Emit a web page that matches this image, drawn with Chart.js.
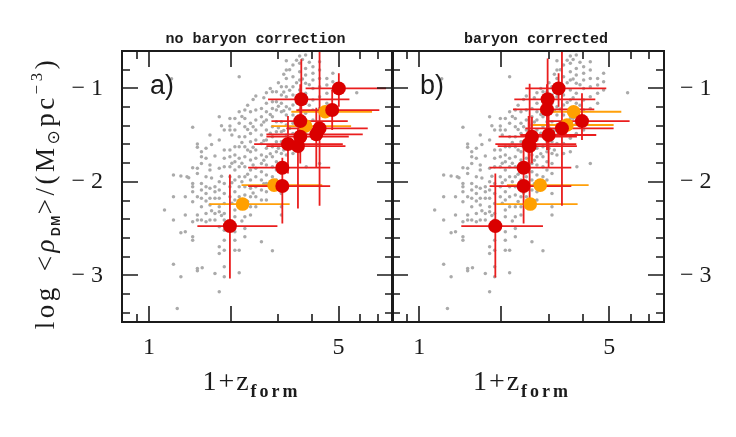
<!DOCTYPE html>
<html><head><meta charset="utf-8">
<script src="https://cdn.jsdelivr.net/npm/chart.js@4.4.0/dist/chart.umd.min.js"></script>
<style>
html,body{margin:0;padding:0;background:#fff;}
#wrap{position:relative;width:736px;height:437px;background:#fff;}
canvas{position:absolute;left:0;top:0;}
</style></head><body>
<div id="wrap"><canvas id="ca" width="736" height="437"></canvas><canvas id="cb" width="736" height="437"></canvas></div>
<script>
// ---------- data ----------
// simulated haloes (same in both panels): 1+z_form columns and log density values
const simZ = [1.14,1.21,1.23,1.27,1.31,1.36,1.38,1.40,1.448,1.507,1.56,1.57,1.622,1.677,1.75,1.815,1.894,1.987,2.073,2.15,2.256,2.367,2.476,2.597,2.709,2.851,2.949,3.077,3.209,3.395,3.594,3.78,3.80,4.023,4.256,4.528,4.764,5.837,
              2.02,2.20,2.31,2.42,2.65,2.80,3.00,3.14,3.30,3.50,3.68,3.90,1.70,1.85];
const simLogRho = [
 [-2.302],
 [-0.896],
 [-1.928,-2.160,-2.409,-2.881],
 [-3.355],
 [-1.938,-2.545,-3.016],
 [-2.160,-2.356,-2.534],
 [-1.946],
 [-1.956],
 [-1.417,-1.849,-2.017,-2.053,-2.106,-2.213,-2.427,-2.588,-2.624],
 [-1.596,-1.631,-1.856,-1.910,-2.160,-2.356,-2.409,-2.927,-2.952],
 [-1.678,-1.731,-1.803,-2.017,-2.088,-2.177,-2.267,-2.409],
 [-2.920],
 [-1.642,-1.749,-1.946,-2.053,-2.124,-2.206,-2.338,-2.427],
 [-1.499,-1.821,-1.874,-2.070,-2.177,-2.249,-2.409],
 [-1.724,-2.053,-2.106,-2.177,-2.338,-2.409,-2.980],
 [-1.303,-1.553,-1.856,-1.999,-2.088,-2.177,-2.267,-2.320,-2.481,-2.695,-2.766,-3.177],
 [-1.446,-1.660,-1.749,-1.838,-2.017,-2.124,-2.231,-2.338,-2.409,-2.517,-2.624,-2.731,-2.909,-3.016],
 [-1.321,-1.403,-1.446,-1.660,-1.731,-1.838,-1.946,-2.053,-2.160,-2.481],
 [-1.321,-1.446,-1.624,-1.713,-1.785,-1.874,-1.981,-2.106,-2.195,-2.302,-2.374,-2.534,-2.624,-2.731],
 [-0.875,-1.250,-1.374,-1.517,-1.624,-1.749,-1.838,-1.946,-2.053,-2.160,-2.267,-2.731,-2.973],
 [-1.232,-1.321,-1.410,-1.517,-1.624,-1.731,-1.838,-1.946,-2.053,-2.142,-2.267,-2.374,-2.499,-2.588],
 [-1.250,-1.374,-1.482,-1.571,-1.678,-1.767,-1.874,-1.981,-2.070,-2.160,-2.267,-2.356],
 [-1.082,-1.232,-1.339,-1.446,-1.553,-1.660,-1.749,-1.856,-1.946,-2.053,-2.160,-2.267],
 [-1.214,-1.303,-1.392,-1.499,-1.589,-1.713,-1.803,-1.892,-1.981,-2.088,-2.195,-2.641],
 [-1.046,-1.160,-1.250,-1.339,-1.446,-1.553,-1.642,-1.731,-1.821,-1.928,-2.017,-2.106,-2.195],
 [-1.035,-1.143,-1.214,-1.303,-1.410,-1.517,-1.624,-1.731,-1.838,-1.946,-2.738],
 [-1.035,-1.143,-1.232,-1.357,-1.464,-1.571,-1.678,-1.785,-1.874,-1.981],
 [-0.982,-1.071,-1.160,-1.250,-1.357,-1.464,-1.571,-1.696,-1.803,-1.910,-2.124,-2.267,-2.356],
 [-0.704,-0.803,-0.893,-0.982,-1.089,-1.196,-1.285,-1.392,-1.499,-1.589,-1.713],
 [-0.750,-0.875,-0.982,-1.071,-1.178,-1.285,-1.374,-1.482,-1.589,-1.696],
 [-0.654,-0.732,-0.821,-0.911,-1.018,-1.125,-1.232,-1.321,-1.428,-1.535,-1.678],
 [-0.643,-0.786,-0.857,-0.946,-1.053,-1.160,-1.267,-1.374,-1.482],
 [-1.838],
 [-0.768,-0.839,-0.911,-1.000,-1.125,-1.232,-1.339,-1.446],
 [-0.714,-0.803,-0.893,-0.982,-1.089,-1.214,-1.803],
 [-0.893,-0.964,-1.053,-1.160],
 [-0.839,-0.928,-1.018],
 [-1.046],
 [-1.50,-1.80,-2.01,-2.23],
 [-1.30,-1.58,-1.80,-2.00,-2.42],
 [-1.18,-1.44,-1.66,-1.92,-2.21],
 [-1.12,-1.41,-1.63,-1.82,-2.12],
 [-1.10,-1.36,-1.56,-1.77,-2.02],
 [-1.00,-1.28,-1.48,-1.70],
 [-0.94,-1.19,-1.42,-1.64],
 [-0.85,-1.04,-1.24,-1.45,-1.66],
 [-0.80,-1.02,-1.22,-1.43],
 [-0.70,-0.94,-1.15,-1.38],
 [-0.69,-0.90,-1.10,-1.32],
 [-0.72,-0.96,-1.18],
 [-1.60,-1.96,-2.31],
 [-1.40,-1.94,-2.36]
];

// panel a) no baryon correction - red sample
const redZ_a     = [1.987,3.102,3.102,3.254,3.542,3.613,3.613,3.644,4.256,4.139,4.738,5.013];
const redRho_a   = [-2.474,-2.045,-1.849,-1.596,-1.617,-1.517,-1.350,-1.117,-1.428,-1.492,-1.232,-1.000];
const redZlo_a   = [1.507,2.320,2.320,2.441,2.709,2.709,2.827,2.748,3.209,2.709,3.493,3.780];
const redZhi_a   = [2.975,4.658,4.658,5.185,5.304,5.455,5.409,5.486,6.409,6.143,7.072,7.483];
const redRholo_a = [-3.034,-2.445,-2.053,-1.910,-2.285,-1.803,-1.660,-1.553,-2.256,-1.838,-1.446,-1.196];
const redRhohi_a = [-1.921,-1.803,-1.742,-1.296,-1.428,-1.303,-0.957,-0.689,-0.450,-1.207,-1.018,-0.839];
// panel a) orange sample
const orZ_a     = [2.212,2.891,3.780,4.465];
const orRho_a   = [-2.238,-2.035,-1.403,-1.250];
const orZlo_a   = [1.668,2.193,2.827,3.348];
const orZhi_a   = [3.301,4.354,5.564,6.648];
const orRholo_a = [-2.270,-2.065,-1.435,-1.280];
const orRhohi_a = [-2.205,-2.005,-1.370,-1.220];

// panel b) baryon corrected - red sample
const redZ_b     = [1.905,2.420,2.420,2.525,2.547,2.597,3.967,2.966,3.348,2.991,2.949,3.254];
const redRho_b   = [-2.474,-2.045,-1.849,-1.596,-1.617,-1.517,-1.350,-1.117,-1.428,-1.499,-1.225,-1.000];
const redZlo_b   = [1.428,1.815,1.815,1.905,1.943,1.959,2.949,2.237,2.455,2.353,2.212,2.455];
const redZhi_b   = [2.851,3.624,3.624,3.780,3.800,3.800,5.937,4.441,5.185,4.477,4.403,4.873];
const redRholo_b = [-3.023,-2.445,-2.053,-1.910,-2.285,-1.803,-1.553,-1.553,-2.256,-1.838,-1.660,-1.196];
const redRhohi_b = [-1.910,-1.803,-1.553,-1.296,-0.950,-1.303,-1.053,-0.679,-0.450,-1.207,-0.957,-0.839];
// panel b) orange sample
const orZ_b     = [2.561,2.787,3.493,3.696];
const orRho_b   = [-2.238,-2.035,-1.392,-1.250];
const orZlo_b   = [1.920,2.101,2.597,2.787];
const orZhi_b   = [3.823,4.197,5.185,5.534];
const orRholo_b = [-2.270,-2.065,-1.425,-1.280];
const orRhohi_b = [-2.205,-2.005,-1.360,-1.220];

// axes
const zRange = [0.7943, 7.943];
const rhoRange = [-3.5, -0.6];
const xTickValues = [0.9,1,2,3,4,5,6,7];
const xTickLabels = ['','1','','','','5','',''];
const xMajorTicks = [1,2,5];
const yTickValues = [-3.4,-3.2,-3,-2.8,-2.6,-2.4,-2.2,-2,-1.8,-1.6,-1.4,-1.2,-1,-0.8];
const yTickLabels = ['','','\u2212 3','','','','','\u2212 2','','','','','\u2212 1',''];
const yMajorTicks = [-3,-2,-1];
const panelTitles = {a:'no baryon correction', b:'baryon corrected'};
const panelLetters = {a:'a)', b:'b)'};

// ---------- styling ----------
const RED = 'rgb(218,0,0)', RED_LINE = 'rgb(234,30,30)';
const ORA = 'rgb(255,160,0)', ORA_LINE = 'rgb(255,160,10)';
const GRAY = 'rgb(170,170,170)';
const INK = '#1b1b1b';
const SERIF = "'Liberation Serif','DejaVu Serif',serif";

function pts(xs, ys){ return xs.map((v,i)=>({x:v, y:ys[i]})); }
const simPts = [];
simZ.forEach((z,i)=> simLogRho[i].forEach(r => simPts.push({x:z, y:r})));

function drawRuns(ctx, runs, x, y, align, spacing){
  ctx.save();
  ctx.textAlign = 'left'; ctx.textBaseline = 'alphabetic';
  let total = 0;
  const ws = runs.map(r => { ctx.font = r.f; ctx.letterSpacing = (r.ls ?? spacing) + 'px'; const w = ctx.measureText(r.t).width + (r.gap||0); total += w; return w; });
  let cx = align === 'center' ? x - total/2 : x;
  runs.forEach((r,i) => { ctx.font = r.f; ctx.letterSpacing = (r.ls ?? spacing) + 'px'; ctx.fillText(r.t, cx, y + (r.dy||0)); cx += ws[i]; });
  ctx.restore();
}

const errPlugin = {
  id:'errbars',
  afterDatasetDraw(chart, args){
    const ds = chart.data.datasets[args.index];
    if (ds.label !== 'sim') return;
    const {ctx, chartArea:a, scales:{x,y}} = chart;
    ctx.save();
    ctx.beginPath(); ctx.rect(a.left, a.top, a.right-a.left, a.bottom-a.top); ctx.clip();
    chart.data.datasets.filter(d => d.err).sort((p,q)=>q.order-p.order).forEach(d => {
      const e = d.err;
      ctx.strokeStyle = d.lineColor; ctx.lineWidth = 1.8;
      ctx.beginPath();
      e.z.forEach((z,i) => {
        const px = x.getPixelForValue(z), py = y.getPixelForValue(e.r[i]);
        ctx.moveTo(x.getPixelForValue(e.zlo[i]), py); ctx.lineTo(x.getPixelForValue(e.zhi[i]), py);
        ctx.moveTo(px, y.getPixelForValue(e.rlo[i])); ctx.lineTo(px, y.getPixelForValue(e.rhi[i]));
      });
      ctx.stroke();
    });
    ctx.restore();
  }
};

const framePlugin = {
  id:'frame',
  afterDraw(chart){
    const {ctx, chartArea:a, scales:{x,y}} = chart;
    ctx.save();
    ctx.strokeStyle = INK; ctx.lineWidth = 1.6;
    ctx.beginPath();
    x.ticks.forEach(t => {
      const px = Math.round(x.getPixelForValue(t.value));
      if (px <= a.left+1 || px >= a.right-1) return;
      const L = xMajorTicks.includes(t.value) ? 16 : 8;
      ctx.moveTo(px, a.bottom); ctx.lineTo(px, a.bottom - L);
      ctx.moveTo(px, a.top); ctx.lineTo(px, a.top + L);
    });
    y.ticks.forEach(t => {
      const py = Math.round(y.getPixelForValue(t.value));
      const L = yMajorTicks.some(v => Math.abs(v - t.value) < 1e-6) ? 16 : 8;
      ctx.moveTo(a.left, py); ctx.lineTo(a.left + L, py);
      ctx.moveTo(a.right, py); ctx.lineTo(a.right - L, py);
    });
    ctx.stroke();
    ctx.lineWidth = 2;
    ctx.strokeRect(a.left, a.top, a.right - a.left, a.bottom - a.top);
    ctx.restore();
  }
};

const textPlugin = {
  id:'texts',
  afterDraw(chart){
    const {ctx, chartArea:a} = chart;
    const p = chart.options.plugins.texts;
    const cx = (a.left + a.right)/2;
    ctx.save();
    ctx.fillStyle = INK;
    // panel title
    ctx.font = "bold 15px 'Liberation Mono','DejaVu Sans Mono',monospace";
    ctx.textAlign = 'center'; ctx.textBaseline = 'alphabetic';
    ctx.fillText(panelTitles[p.panel], cx + p.titleShift, a.top - 8);
    // panel letter
    ctx.font = "27px 'Liberation Sans',Arial,sans-serif";
    ctx.textAlign = 'left';
    ctx.fillText(panelLetters[p.panel], a.left + 28, a.top + 43);
    // x title
    drawRuns(ctx, [
      {t:'1+z', f:'28px ' + SERIF},
      {t:'form', f:'bold 18px ' + SERIF, dy:7, ls:3}
    ], cx - 6, a.bottom + 68, 'center', 2);
    // y title (left panel only)
    if (p.panel === 'a'){
      ctx.translate(54, 193);
      ctx.rotate(-Math.PI/2);
      drawRuns(ctx, [
        {t:'log', f:'27px ' + SERIF, gap:13},
        {t:'<', f:'27px ' + SERIF},
        {t:'\u03C1', f:'italic 27px ' + SERIF},
        {t:'DM', f:"bold 12px 'Liberation Sans',sans-serif", dy:6, ls:1.5},
        {t:'>/(M', f:'27px ' + SERIF},
        {t:'\u2299', f:"17px 'DejaVu Sans',sans-serif", dy:5},
        {t:'pc', f:'27px ' + SERIF},
        {t:'\u22123', f:'17px ' + SERIF, dy:-12},
        {t:')', f:'27px ' + SERIF}
      ], 0, 0, 'center', 3.5);
    }
    ctx.restore();
  }
};

function makeChart(id, panel){
  const isA = panel === 'a';
  const D = isA ? {rz:redZ_a, rr:redRho_a, rzl:redZlo_a, rzh:redZhi_a, rrl:redRholo_a, rrh:redRhohi_a,
                   oz:orZ_a, or:orRho_a, ozl:orZlo_a, ozh:orZhi_a, orl:orRholo_a, orh:orRhohi_a}
                : {rz:redZ_b, rr:redRho_b, rzl:redZlo_b, rzh:redZhi_b, rrl:redRholo_b, rrh:redRhohi_b,
                   oz:orZ_b, or:orRho_b, ozl:orZlo_b, ozh:orZhi_b, orl:orRholo_b, orh:orRhohi_b};
  const tickFont = {family:SERIF, size:24};
  return new Chart(document.getElementById(id), {
    type:'scatter',
    data:{datasets:[
      {label:'red', data:pts(D.rz, D.rr), pointRadius:7, pointHoverRadius:7, backgroundColor:RED, borderWidth:0, order:0,
       lineColor:RED_LINE, err:{z:D.rz, r:D.rr, zlo:D.rzl, zhi:D.rzh, rlo:D.rrl, rhi:D.rrh}},
      {label:'orange', data:pts(D.oz, D.or), pointRadius:6.8, pointHoverRadius:6.8, backgroundColor:ORA, borderWidth:0, order:1,
       lineColor:ORA_LINE, err:{z:D.oz, r:D.or, zlo:D.ozl, zhi:D.ozh, rlo:D.orl, rhi:D.orh}},
      {label:'sim', data:simPts, pointRadius:1.75, pointHoverRadius:1.75, backgroundColor:GRAY, borderWidth:0, order:2}
    ]},
    options:{
      responsive:false, animation:false, devicePixelRatio:1, events:[],
      layout:{padding: isA ? {left:0, top:51, right:343, bottom:0} : {left:392, top:51, right:0, bottom:0}},
      plugins:{legend:{display:false}, tooltip:{enabled:false}, title:{display:false},
               texts:{panel:panel, titleShift: isA ? -2 : 8}},
      scales:{
        x:{type:'logarithmic', position:'bottom', min:zRange[0], max:zRange[1],
           grid:{display:false, drawTicks:false}, border:{display:false},
           afterBuildTicks: s => { s.ticks = xTickValues.map(v => ({value:v})); },
           afterFit: s => { s.height = 115; },
           ticks:{autoSkip:false, maxRotation:0, minRotation:0, padding:11, font:tickFont, color:INK,
                  callback:(v, i) => xTickLabels[i]}},
        y:{type:'linear', position: isA ? 'left' : 'right', min:rhoRange[0], max:rhoRange[1],
           grid:{display:false, drawTicks:false}, border:{display:false},
           afterBuildTicks: s => { s.ticks = yTickValues.map(v => ({value:v})); },
           afterFit: s => { s.width = isA ? 122 : 72; },
           ticks:{autoSkip:false, padding: isA ? 19 : 16, font:tickFont, color:INK,
                  callback:(v, i) => yTickLabels[i]}}
      }
    },
    plugins:[errPlugin, framePlugin, textPlugin]
  });
}
makeChart('ca','a');
makeChart('cb','b');
</script>
</body></html>
